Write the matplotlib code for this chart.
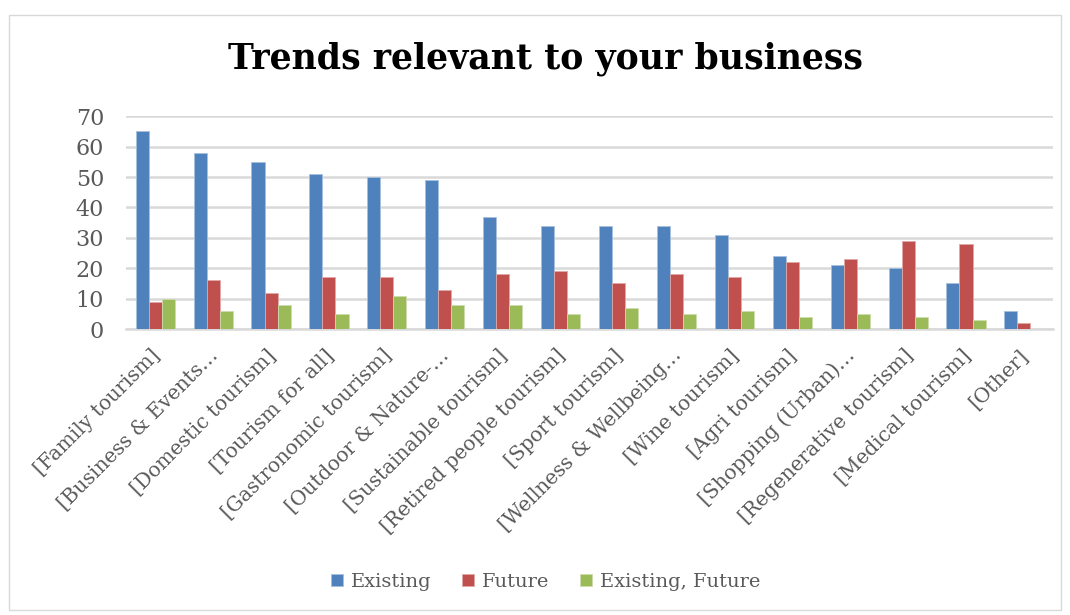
import numpy as np
import matplotlib
matplotlib.use('Agg')
import matplotlib.pyplot as plt
import matplotlib.transforms as mtransforms
from matplotlib.patches import Rectangle

# Trends relevant to the business: counts per tourism type
categories = [
    '[Family tourism]', '[Business & Events…', '[Domestic tourism]',
    '[Tourism for all]', '[Gastronomic tourism]', '[Outdoor & Nature-…',
    '[Sustainable tourism]', '[Retired people tourism]', '[Sport tourism]',
    '[Wellness & Wellbeing…', '[Wine tourism]', '[Agri tourism]',
    '[Shopping (Urban)…', '[Regenerative tourism]', '[Medical tourism]',
    '[Other]',
]
existing = [65, 58, 55, 51, 50, 49, 37, 34, 34, 34, 31, 24, 21, 20, 15, 6]
future = [9, 16, 12, 17, 17, 13, 18, 19, 15, 18, 17, 22, 23, 29, 28, 2]
both = [10, 6, 8, 5, 11, 8, 8, 5, 7, 5, 6, 4, 5, 4, 3, 0]

plt.rcParams['font.family'] = ['DejaVu Serif']
text_col = '#595959'

fig = plt.figure(figsize=(10.7, 6.15), dpi=100)
ax = fig.add_axes([0.118, 0.465, 0.866, 0.346])

x = np.arange(len(categories))
w = 0.225
ax.bar(x - w, existing, w, color='#4f81bd', edgecolor='#a7c0de', linewidth=0.6, label='Existing', zorder=3)
ax.bar(x, future, w, color='#c0504d', edgecolor='#e0a8a6', linewidth=0.6, label='Future', zorder=3)
ax.bar(x + w, both, w, color='#9bbb59', edgecolor='#cddcad', linewidth=0.6, label='Existing, Future', zorder=3)

ax.set_xlim(-0.5, len(categories) - 0.5)
ax.set_ylim(0, 70)
ax.set_yticks(range(0, 71, 10))
ax.yaxis.grid(True, color='#d9d9d9', linewidth=1.8, zorder=0)
for s in ['top', 'right', 'left']:
    ax.spines[s].set_visible(False)
ax.spines['bottom'].set_color('#d9d9d9')
ax.spines['bottom'].set_linewidth(1.8)
ax.tick_params(length=0, colors=text_col)
ax.tick_params(axis='y', pad=16, labelsize=16)
ax.tick_params(axis='x', pad=12)
ax.set_xticks(x)
ax.set_xticklabels(categories, rotation=45, ha='right', rotation_mode='anchor', fontsize=14.5, color=text_col)

# nudge the slanted labels a little to the left
shift = mtransforms.ScaledTranslation(-5 / 100, 0, fig.dpi_scale_trans)
for lbl in ax.get_xticklabels():
    lbl.set_transform(lbl.get_transform() + shift)

fig.text(0.51, 0.905, 'Trends relevant to your business', ha='center', va='center',
         fontsize=25, fontweight='bold', color='black')

fig.legend(loc='center', bbox_to_anchor=(0.51, 0.054), ncol=3, frameon=False,
           fontsize=14, labelcolor=text_col, handlelength=0.6, handleheight=0.6,
           columnspacing=1.6, handletextpad=0.4)

# outer chart frame
fig.patches.append(Rectangle((0.008, 0.008), 0.984, 0.968, transform=fig.transFigure,
                             fill=False, edgecolor='#d9d9d9', linewidth=1))

fig.savefig('out.png', dpi=100)
